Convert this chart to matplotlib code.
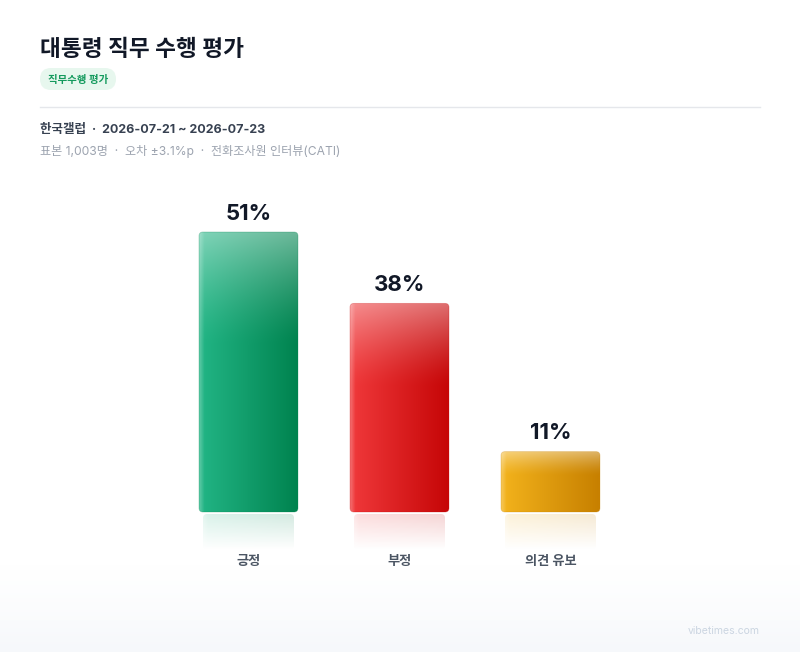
import numpy as np
import matplotlib
matplotlib.use("Agg")
import matplotlib.pyplot as plt
from matplotlib.patches import FancyBboxPatch
from matplotlib.colors import to_rgb

plt.rcParams['font.family'] = ['Inter', 'Noto Sans CJK KR', 'DejaVu Sans']

# data
categories = ["긍정", "부정", "의견 유보"]
values = [51, 38, 11]
left_colors = ["#22b585", "#f0393b", "#f3b31c"]
right_colors = ["#00834f", "#c60607", "#c78000"]

title = "대통령 직무 수행 평가"
tag = "직무수행 평가"
source = "한국갤럽  ·  2026-07-21 ~ 2026-07-23"
meta = "표본 1,003명  ·  오차 ±3.1%p  ·  전화조사원 인터뷰(CATI)"
credit = "vibetimes.com"

W, H = 800, 652
fig = plt.figure(figsize=(W / 100, H / 100), dpi=100)
fig.patch.set_facecolor("white")

# background / header axes in pixel coords
bg = fig.add_axes([0, 0, 1, 1], zorder=0)
bg.axis("off")

# soft bottom fade
fade = np.linspace(0, 1, 100)[:, None] ** 1.3
top_c = np.array(to_rgb("#ffffff"))
bot_c = np.array(to_rgb("#f6f8fb"))
grad = top_c + (bot_c - top_c) * fade[..., None]
grad = np.repeat(grad, 2, axis=1)
bg.imshow(grad, extent=[0, W, H, 565], aspect="auto", zorder=0)
bg.set_xlim(0, W)
bg.set_ylim(H, 0)

bg.text(40, 50, title, fontsize=16.3, fontweight="bold", color="#111827",
        ha="left", va="center")
pill = FancyBboxPatch((40, 68), 76, 22, boxstyle="round,pad=0,rounding_size=11",
                      fc="#e7f7ee", ec="none", zorder=1)
bg.add_patch(pill)
bg.text(78, 79.5, tag, fontsize=7.5, fontweight="bold", color="#149a5d",
        ha="center", va="center", zorder=2)
bg.plot([40, 760], [107, 107], color="#e5e7eb", lw=1)
bg.text(40, 130, source, fontsize=9.0, fontweight="bold", color="#374151",
        ha="left", va="center")
bg.text(40, 151, meta, fontsize=8.7, color="#9ca3af", ha="left", va="center")
bg.text(760, 631, credit, fontsize=7.5, color="#cbd5e1", ha="right", va="center")

# bar axes: 1 x-unit = 151 px, 1 y-unit = 280/51 px
px_x = 151.0
px_y = 280.0 / 51
y_lo, y_hi = -12, 62
base_px = 512
ax_left = 248.5 - px_x
ax_bottom = H - (base_px + (-y_lo) * px_y)
ax_h = (y_hi - y_lo) * px_y
ax = fig.add_axes([ax_left / W, ax_bottom / H, 4 * px_x / W, ax_h / H], zorder=2)
ax.patch.set_alpha(0)
ax.axis("off")

bw = 99 / px_x
rad = 4 / px_x
asp = px_x / px_y
n = 64
for i, (cat, v) in enumerate(zip(categories, values)):
    x0 = i - bw / 2
    lc = np.array(to_rgb(left_colors[i]))
    rc = np.array(to_rgb(right_colors[i]))
    # horizontal gradient
    tx = np.linspace(0, 1, n)
    row = lc + (rc - lc) * tx[:, None]
    edge = np.clip(1 - tx / 0.05, 0, 1) * 0.25
    row = row + (1 - row) * edge[:, None]
    img = np.repeat(row[None, :, :], 200, axis=0)
    # glossy top
    ty = np.linspace(0, 1, 200)[:, None]  # 0 = top
    gloss = np.clip(1 - ty / 0.4, 0, 1) ** 1.4 * 0.42
    img = img + (1 - img) * gloss[..., None]
    im = ax.imshow(img, extent=[x0, x0 + bw, 0, v], aspect="auto", zorder=3,
                   interpolation="bilinear")
    clip = FancyBboxPatch((x0, 0), bw, v,
                          boxstyle=f"round,pad=0,rounding_size={rad}",
                          mutation_aspect=asp, fc="none", ec="none",
                          transform=ax.transData)
    ax.add_patch(clip)
    im.set_clip_path(clip)
    border = FancyBboxPatch((x0, 0), bw, v,
                            boxstyle=f"round,pad=0,rounding_size={rad}",
                            mutation_aspect=asp, fc="none", ec=right_colors[i],
                            lw=0.6, alpha=0.3, zorder=4)
    ax.add_patch(border)

    # reflection
    inset = 4 / px_x
    r_top = -2 / px_y
    r_bot = -38 / px_y
    rimg = np.zeros((100, n, 4))
    rimg[..., :3] = row
    rimg[..., 3] = np.linspace(0.17, 0.0, 100)[:, None]
    rim = ax.imshow(rimg, extent=[x0 + inset, x0 + bw - inset, r_bot, r_top],
                    aspect="auto", zorder=2, interpolation="bilinear")
    rclip = FancyBboxPatch((x0 + inset, r_bot), bw - 2 * inset, r_top - r_bot,
                           boxstyle=f"round,pad=0,rounding_size={rad}",
                           mutation_aspect=asp, fc="none", ec="none",
                           transform=ax.transData)
    ax.add_patch(rclip)
    rim.set_clip_path(rclip)

    ax.annotate(f"{v}%", (i, v), xytext=(0, 9), textcoords="offset points",
                ha="center", va="baseline", fontsize=16, fontweight="bold",
                color="#111827")
    ax.text(i, -50 / px_y, cat, ha="center", va="center", fontsize=9.5,
            fontweight="bold", color="#4b5563")

ax.set_xlim(-1, 3)
ax.set_ylim(y_lo, y_hi)

fig.savefig("out.png", dpi=100)
